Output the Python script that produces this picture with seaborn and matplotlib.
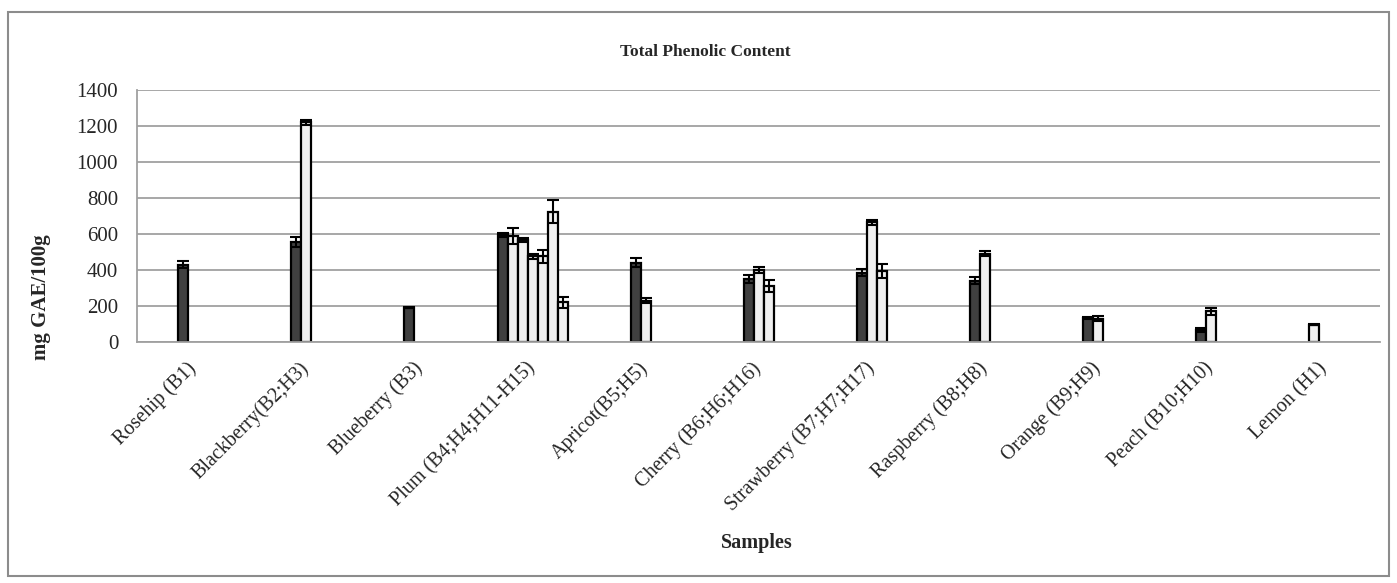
import matplotlib
matplotlib.use('Agg')
import matplotlib.pyplot as plt
import matplotlib.patches as mpatches
import numpy as np
import pandas as pd
import seaborn as sns

# Data
samples = ['Rosehip (B1)', 'Blackberry(B2;H3)', 'Blueberry (B3)', 'Plum (B4;H4;H11-H15)',
           'Apricot(B5;H5)', 'Cherry (B6;H6;H16)', 'Strawberry (B7;H7;H17)',
           'Raspberry (B8;H8)', 'Orange (B9;H9)', 'Peach (B10;H10)', 'Lemon (H1)']

# dark bars (B samples)
b_values = [430, 555, 190, 595, 440, 350, 385, 340, 135, 65, np.nan]
b_errors = [20, 30, 3, 10, 25, 20, 20, 20, 5, 10, np.nan]

# light bars (H samples), one list per sample
h_values = [[], [1220], [], [590, 565, 475, 475, 725, 220], [230], [400, 310],
            [665, 395], [490], [130], [170], [95]]
h_errors = [[], [15], [], [45, 12, 15, 35, 65, 30], [15], [15, 35],
            [15, 40], [15], [15], [20], [3]]

sns.set_style('white')
plt.rcParams['font.family'] = ['Liberation Serif', 'DejaVu Serif']

# Build long table; bars sit in slots of an Excel-like clustered chart
slot = 10 / 113
rows = []
for i, s in enumerate(samples):
    bars = []
    if not np.isnan(b_values[i]):
        bars.append(('B', b_values[i], b_errors[i]))
    bars += [('H', v, e) for v, e in zip(h_values[i], h_errors[i])]
    start = -3 if len(bars) == 7 else -1
    for k, (kind, v, e) in enumerate(bars):
        rows.append({'pos': i + (start + k) * slot, 'kind': kind, 'value': v, 'err': e})
df = pd.DataFrame(rows)

fig = plt.figure(figsize=(13.97, 5.83), dpi=100)
ax = fig.add_axes([0.098, 0.4134, 0.89, 0.4322])

sns.barplot(data=df, x='pos', y='value', hue='kind', native_scale=True, dodge=False,
            width=1, palette={'B': '#404040', 'H': '#f0f0f0'}, edgecolor='black',
            linewidth=1.6, errorbar=None, legend=False, ax=ax, zorder=2)
ax.errorbar(df['pos'], df['value'], yerr=df['err'], fmt='none', ecolor='black',
            elinewidth=1.5, capsize=4.5, capthick=1.5, zorder=3)

ax.set_xlim(-0.5, 10.5)
ax.set_ylim(0, 1400)
ax.set_yticks(range(0, 1401, 200))
ax.yaxis.grid(True, color='#a0a0a0', lw=1.3)
ax.set_axisbelow(True)

ax.set_xticks(range(len(samples)))
ax.set_xticklabels(samples, rotation=45, ha='right', va='center', rotation_mode='anchor',
                   fontsize=14.5)
ax.set_xticks(np.arange(-0.5, len(samples), 1), minor=True)
ax.tick_params(axis='x', which='major', length=0, pad=17)
ax.tick_params(axis='x', which='minor', length=6, color='#a0a0a0', width=1.3, direction='out')
ax.tick_params(axis='y', length=6.5, color='#a0a0a0', width=1.3, direction='out',
               labelsize=15, pad=7)
ax.set_xlabel('')
ax.set_ylabel('')

for side in ['top', 'right']:
    ax.spines[side].set_visible(False)
for side in ['left', 'bottom']:
    ax.spines[side].set_color('#a0a0a0')
    ax.spines[side].set_linewidth(1.3)

fig.text(0.505, 0.91, 'Total Phenolic Content', ha='center', va='center',
         fontsize=12.5, fontweight='bold')
fig.text(0.029, 0.49, 'mg GAE/100g', ha='center', va='center', rotation=90,
         fontsize=15, fontweight='bold')
fig.text(0.542, 0.069, 'Samples', ha='center', va='center', fontsize=14.5, fontweight='bold')

fig.patches.append(mpatches.Rectangle((0.006, 0.012), 0.988, 0.968, transform=fig.transFigure,
                                      fill=False, edgecolor='#8c8c8c', linewidth=1.5))

fig.savefig('out.png', dpi=100)
